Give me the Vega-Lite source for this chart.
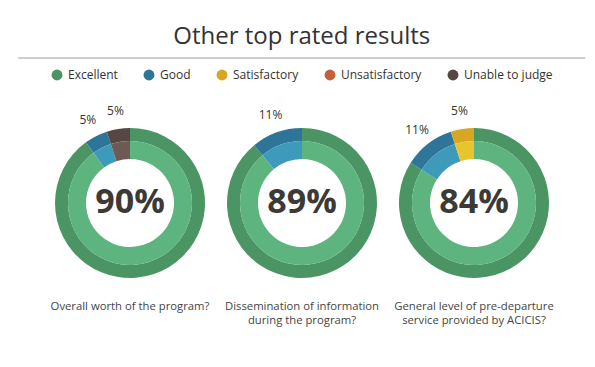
{
  "$schema": "https://vega.github.io/schema/vega-lite/v6.json",
  "background": "white",
  "padding": {"left": 17, "right": 10, "top": 24, "bottom": 5},
  "spacing": 10,
  "center": true,
  "resolve": {"legend": {"color": "independent"}, "scale": {"color": "independent"}},
  "config": {
    "view": {"stroke": null},
    "font": "Open Sans",
    "legend": {"layout": {"top": {"anchor": "middle"}}}
  },
  "vconcat": [
    {
      "title": {"text": "Other top rated results", "fontSize": 24, "font": "Open Sans", "fontWeight": 400, "color": "#333333", "offset": 9},
      "width": 567,
      "height": 1,
      "data": {"values": [{"part": "divider"}]},
      "mark": {"type": "rule", "color": "#9a9a9a", "strokeWidth": 1},
      "encoding": {"x": {"value": 0}, "x2": {"value": "width"}, "y": {"value": 0}}
    },
    {
      "data": {
        "values": [
          {"question": "Overall worth of the program?", "rating": "Excellent", "pct": 90, "ord": 1},
          {"question": "Overall worth of the program?", "rating": "Good", "pct": 5, "ord": 2},
          {"question": "Overall worth of the program?", "rating": "Unable to judge", "pct": 5, "ord": 5},
          {"question": "Dissemination of information|during the program?", "rating": "Excellent", "pct": 89, "ord": 1},
          {"question": "Dissemination of information|during the program?", "rating": "Good", "pct": 11, "ord": 2},
          {"question": "General level of pre-departure|service provided by ACICIS?", "rating": "Excellent", "pct": 84, "ord": 1},
          {"question": "General level of pre-departure|service provided by ACICIS?", "rating": "Good", "pct": 11, "ord": 2},
          {"question": "General level of pre-departure|service provided by ACICIS?", "rating": "Satisfactory", "pct": 5, "ord": 3}
        ]
      },
      "transform": [
        {"calculate": "datum.rating === 'Excellent' ? '' : datum.pct + '%'", "as": "label"}
      ],
      "facet": {
        "column": {
          "field": "question",
          "type": "nominal",
          "sort": ["Overall worth of the program?", "Dissemination of information|during the program?", "General level of pre-departure|service provided by ACICIS?"],
          "title": null,
          "header": {
            "labelOrient": "bottom",
            "labelExpr": "split(datum.value, '|')",
            "labelFont": "Open Sans",
            "labelFontSize": 11.3,
            "labelColor": "#444444",
            "labelLineHeight": 14,
            "labelPadding": 3
          }
        }
      },
      "spacing": 0,
      "spec": {
        "width": 172,
        "height": 150,
        "layer": [
          {
            "mark": {"type": "arc", "radius": 75, "radius2": 62},
            "encoding": {
              "theta": {"field": "pct", "type": "quantitative", "stack": true},
              "order": {"field": "ord", "type": "quantitative", "sort": "ascending"},
              "color": {
                "field": "rating",
                "type": "nominal",
                "scale": {
                  "domain": ["Excellent", "Good", "Satisfactory", "Unsatisfactory", "Unable to judge"],
                  "range": ["#4a9563", "#2e7599", "#d9a624", "#c5603c", "#574641"]
                },
                "legend": {
                  "title": null,
                  "orient": "top",
                  "direction": "horizontal",
                  "offset": 24,
                  "symbolType": "circle",
                  "symbolSize": 120,
                  "symbolStrokeWidth": 0,
                  "symbolOpacity": 1,
                  "labelFont": "Open Sans",
                  "labelFontSize": 12,
                  "labelColor": "#333333",
                  "columnPadding": 25,
                  "labelOffset": 5
                }
              }
            }
          },
          {
            "mark": {"type": "arc", "radius": 62, "radius2": 44},
            "encoding": {
              "theta": {"field": "pct", "type": "quantitative", "stack": true},
              "order": {"field": "ord", "type": "quantitative", "sort": "ascending"},
              "fill": {
                "field": "rating",
                "type": "nominal",
                "scale": {
                  "domain": ["Excellent", "Good", "Satisfactory", "Unsatisfactory", "Unable to judge"],
                  "range": ["#5db47f", "#3d9aba", "#e8c52f", "#d8734c", "#6d5a53"]
                },
                "legend": null
              }
            }
          },
          {
            "mark": {"type": "text", "radius": 93, "fontSize": 12, "font": "Open Sans", "color": "#333333"},
            "encoding": {
              "theta": {"field": "pct", "type": "quantitative", "stack": true},
              "order": {"field": "ord", "type": "quantitative", "sort": "ascending"},
              "text": {"field": "label", "type": "nominal"}
            }
          },
          {
            "transform": [
              {"filter": "datum.rating === 'Excellent'"},
              {"calculate": "datum.pct + '%'", "as": "center"}
            ],
            "mark": {"type": "text", "fontSize": 34, "fontWeight": "bold", "font": "Open Sans", "color": "#3d3935", "baseline": "middle", "align": "center"},
            "encoding": {
              "text": {"field": "center", "type": "nominal"}
            }
          }
        ]
      }
    }
  ]
}
